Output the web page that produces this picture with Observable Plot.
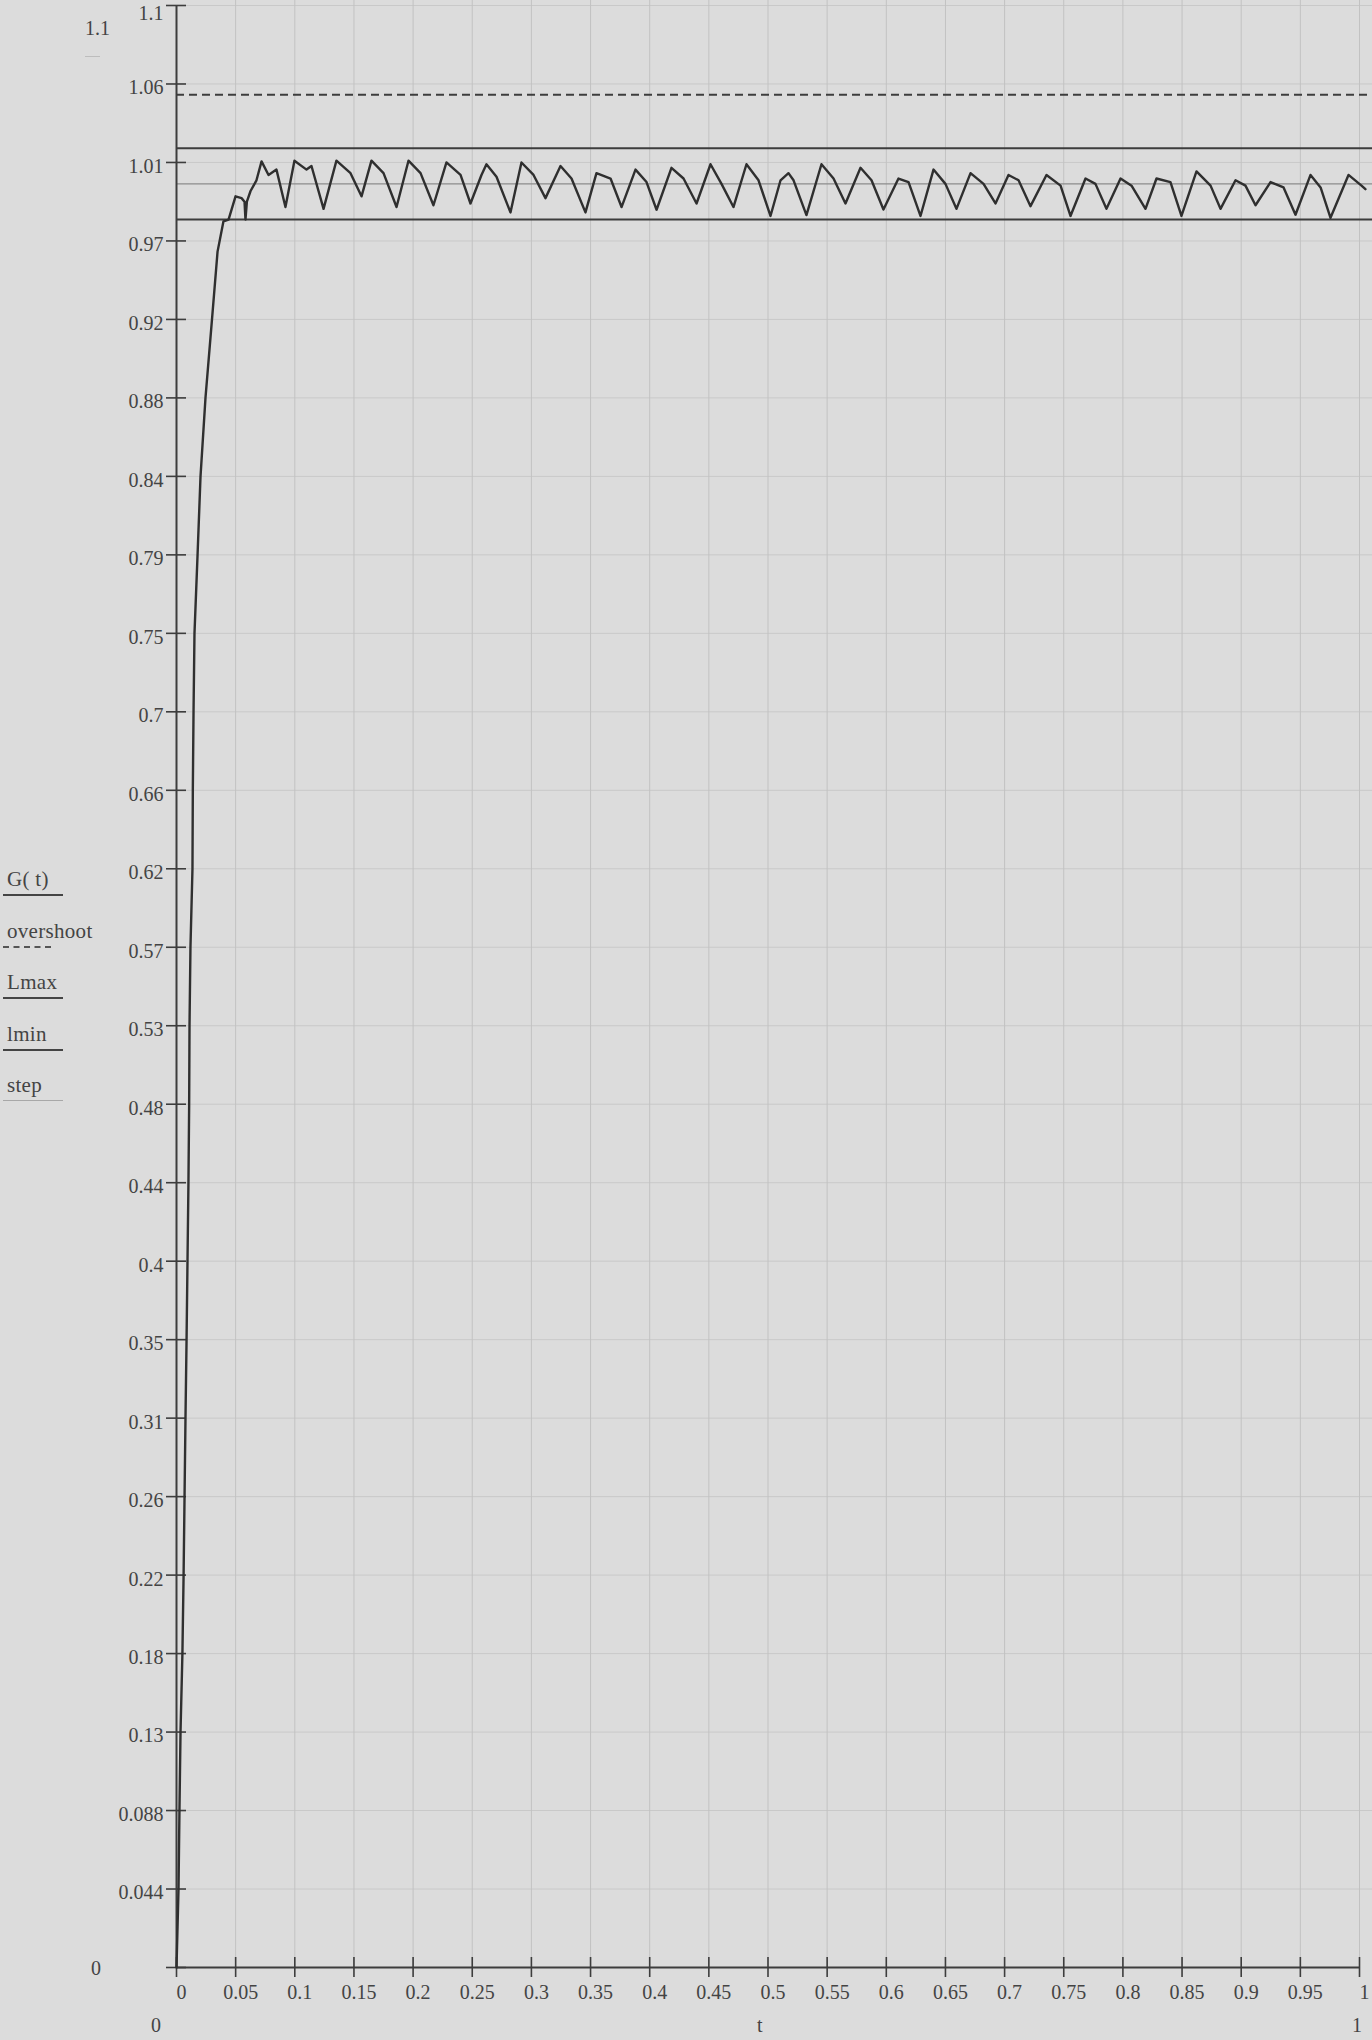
<!DOCTYPE html>
<html><head><meta charset="utf-8">
<script src="https://cdn.jsdelivr.net/npm/d3@7"></script>
<script src="https://cdn.jsdelivr.net/npm/@observablehq/plot@0.6"></script>
<style>
html,body{margin:0;padding:0;background:#dcdcdc;overflow:hidden;}
#wrap{position:relative;width:1372px;height:2040px;overflow:hidden;font-family:"Liberation Serif",serif;color:#444;}
.lbl{position:absolute;font-size:20px;line-height:20px;white-space:nowrap;}
.leg{font-size:21px;letter-spacing:0.3px;}
.ln{position:absolute;height:0;}
#chart{position:absolute;left:0;top:0;}
</style></head><body><div id="wrap"><div id="chart"></div></div>
<script>
// ---- data ----
const time = [
0, 0.0017, 0.0025, 0.0034, 0.0050, 0.0060, 0.0068, 0.0076, 0.0085, 0.0093,
0.0101, 0.0107, 0.0110, 0.0118, 0.0135, 0.0138, 0.0144, 0.0152, 0.0178, 0.0203,
0.0245, 0.0300, 0.0347, 0.0397, 0.0440, 0.0499, 0.0550, 0.0575, 0.0583, 0.0595,
0.0626, 0.0676, 0.0719, 0.0778, 0.0845, 0.0921, 0.0997, 0.1099, 0.1141, 0.1243,
0.1352, 0.1471, 0.1564, 0.1648, 0.1750, 0.1860, 0.1961, 0.2063, 0.2172, 0.2282,
0.2401, 0.2485, 0.2578, 0.2620, 0.2705, 0.2823, 0.2916, 0.3018, 0.3119, 0.3246,
0.3339, 0.3457, 0.3550, 0.3669, 0.3762, 0.3880, 0.3973, 0.4058, 0.4184, 0.4286,
0.4396, 0.4514, 0.4607, 0.4708, 0.4818, 0.4920, 0.5021, 0.5106, 0.5173, 0.5216,
0.5325, 0.5452, 0.5554, 0.5655, 0.5782, 0.5875, 0.5976, 0.6103, 0.6188, 0.6289,
0.6399, 0.6500, 0.6593, 0.6712, 0.6822, 0.6923, 0.7033, 0.7118, 0.7219, 0.7354,
0.7473, 0.7557, 0.7684, 0.7768, 0.7861, 0.7980, 0.8073, 0.8191, 0.8284, 0.8402,
0.8495, 0.8622, 0.8741, 0.8825, 0.8952, 0.9036, 0.9121, 0.9248, 0.9358, 0.9459,
0.9586, 0.9671, 0.9755, 0.9907, 1.0017, 1.0050
];
const response = [
0, 0.044, 0.088, 0.132, 0.176, 0.22, 0.264, 0.308, 0.352, 0.396,
0.44, 0.484, 0.528, 0.572, 0.616, 0.66, 0.704, 0.748, 0.792, 0.836,
0.88, 0.924, 0.962, 0.979, 0.980, 0.993, 0.992, 0.990, 0.980, 0.990,
0.996, 1.002, 1.0126, 1.005, 1.008, 0.987, 1.013, 1.008, 1.010, 0.986,
1.013, 1.006, 0.993, 1.013, 1.006, 0.987, 1.013, 1.006, 0.988, 1.012,
1.005, 0.989, 1.005, 1.011, 1.004, 0.984, 1.012, 1.005, 0.992, 1.010,
1.003, 0.984, 1.006, 1.003, 0.987, 1.008, 1.001, 0.9855, 1.009, 1.003,
0.989, 1.011, 1.000, 0.987, 1.011, 1.002, 0.982, 1.002, 1.006, 1.002,
0.9825, 1.011, 1.003, 0.989, 1.009, 1.002, 0.9856, 1.003, 1.001, 0.982,
1.008, 1.000, 0.986, 1.006, 1.000, 0.989, 1.005, 1.002, 0.9875, 1.005,
0.999, 0.982, 1.003, 1.000, 0.986, 1.003, 0.999, 0.986, 1.003, 1.001,
0.982, 1.007, 0.999, 0.986, 1.002, 0.999, 0.988, 1.001, 0.998, 0.9827,
1.005, 0.998, 0.981, 1.005, 0.999, 0.997
];
const overshootLevel = 1.05;
const lmaxLevel = 1.02;
const lminLevel = 0.98;
const stepLevel = 1.0;

const yTicks = [0.044, 0.088, 0.132, 0.176, 0.22, 0.264, 0.308, 0.352, 0.396, 0.44,
  0.484, 0.528, 0.572, 0.616, 0.66, 0.704, 0.748, 0.792, 0.836, 0.88, 0.924, 0.968,
  1.012, 1.056, 1.1];
const yTickLabels = ["0.044", "0.088", "0.13", "0.18", "0.22", "0.26", "0.31", "0.35", "0.4", "0.44",
  "0.48", "0.53", "0.57", "0.62", "0.66", "0.7", "0.75", "0.79", "0.84", "0.88", "0.92", "0.97",
  "1.01", "1.06", "1.1"];
const xTicks = [0, 0.05, 0.1, 0.15, 0.2, 0.25, 0.3, 0.35, 0.4, 0.45, 0.5, 0.55, 0.6, 0.65,
  0.7, 0.75, 0.8, 0.85, 0.9, 0.95, 1];
const xTickLabels = ["0", "0.05", "0.1", "0.15", "0.2", "0.25", "0.3", "0.35", "0.4", "0.45",
  "0.5", "0.55", "0.6", "0.65", "0.7", "0.75", "0.8", "0.85", "0.9", "0.95", "1"];
const yMin = 0, yMax = 1.1, xMin = 0, xEnd = 1;

const legendItems = [
  {label: "G( t)", style: "solid"},
  {label: "overshoot", style: "dash"},
  {label: "Lmax", style: "solid"},
  {label: "lmin", style: "solid"},
  {label: "step", style: "thin"}
];

// ---- layout ----
const W = 1372, H = 2040, mL = 176, mT = 5, mB = 73;
const pxX = 1183;
const xMax = (W - mL) / pxX;
const pxY = (H - mT - mB) / (yMax - yMin);
const tx = 10 / pxX, ty = 10 / pxY;
const ink = "#3d3d3d";

const pts = time.map((t, i) => ({t, g: response[i]}));
const lowTicks = yTicks.slice(0, -1), topTick = yTicks.slice(-1);

const chart = Plot.plot({
  width: W, height: H,
  marginLeft: mL, marginRight: 0, marginTop: mT, marginBottom: mB,
  x: {domain: [xMin, xMax], axis: null},
  y: {domain: [yMin, yMax], axis: null},
  style: {background: "transparent", fontFamily: "Liberation Serif, serif", fontSize: "20px", color: "#444"},
  marks: [
    Plot.ruleY(yTicks, {x1: xMin, x2: xMax, stroke: "#c9c9c9", strokeWidth: 1}),
    Plot.ruleX(xTicks.slice(1), {y1: yMin, y2: yMax + mT / pxY, stroke: "#c2c2c2", strokeWidth: 1}),
    Plot.ruleY([stepLevel], {x1: xMin, x2: xMax, stroke: "#8c8c8c", strokeWidth: 1.2}),
    Plot.ruleY([lmaxLevel, lminLevel], {x1: xMin, x2: xMax, stroke: ink, strokeWidth: 2}),
    Plot.ruleY([overshootLevel], {x1: xMin, x2: xMax, stroke: ink, strokeWidth: 2, strokeDasharray: "8,5"}),
    Plot.ruleX([xMin], {y1: yMin, y2: yMax, stroke: ink, strokeWidth: 2}),
    Plot.ruleY([yMin], {x1: xMin, x2: xEnd, stroke: ink, strokeWidth: 2}),
    Plot.ruleY([yMin, ...yTicks], {x1: xMin - tx, x2: xMin + tx, stroke: ink, strokeWidth: 1.6}),
    Plot.ruleX(xTicks, {y1: yMin - ty, y2: yMin + ty, stroke: ink, strokeWidth: 1.6}),
    Plot.text(lowTicks, {x: xMin, y: d => d, text: (d, i) => yTickLabels[i], textAnchor: "end", dx: -13, dy: 4, fill: "#444", fontSize: 20}),
    Plot.text(topTick, {x: xMin, y: d => d, text: () => yTickLabels[yTickLabels.length - 1], textAnchor: "end", dx: -13, dy: 8, fill: "#444", fontSize: 20}),
    Plot.text(xTicks, {x: d => d, y: yMin, text: (d, i) => xTickLabels[i], dx: 5, dy: 25, fill: "#444", fontSize: 20}),
    Plot.line(pts, {x: "t", y: "g", stroke: "#2f2f2f", strokeWidth: 2.4, strokeLinejoin: "round"})
  ]
});
document.getElementById("chart").appendChild(chart);

// ---- labels and legend outside the plot ----
const wrap = document.getElementById("wrap");
function addText(txt, left, top, cls) {
  const d = document.createElement("div");
  d.className = "lbl" + (cls ? " " + cls : ""); d.textContent = txt;
  d.style.left = left + "px"; d.style.top = top + "px";
  wrap.appendChild(d);
}
function addLine(left, top, width, style) {
  const d = document.createElement("div");
  d.className = "ln";
  d.style.left = left + "px"; d.style.top = top + "px"; d.style.width = width + "px";
  if (style === "dash") d.style.borderTop = "2px dashed #555";
  else if (style === "thin") d.style.borderTop = "1px solid #a8a8a8";
  else if (style === "faint") d.style.borderTop = "1px solid #bdbdbd";
  else d.style.borderTop = "2px solid #444";
  wrap.appendChild(d);
}
addText(String(yMax), 85, 18);
addLine(85, 56, 15, "faint");
addText(String(yMin), 91, 1958);
addText(String(xMin), 151, 2015);
addText("t", 757, 2015);
addText(String(xEnd), 1352, 2015);

legendItems.forEach((it, i) => {
  const top = 869 + i * 51.5;
  addText(it.label, 7, top, "leg");
  addLine(3, top + 25, it.style === "dash" ? 48 : 60, it.style);
});
</script>
</body></html>
